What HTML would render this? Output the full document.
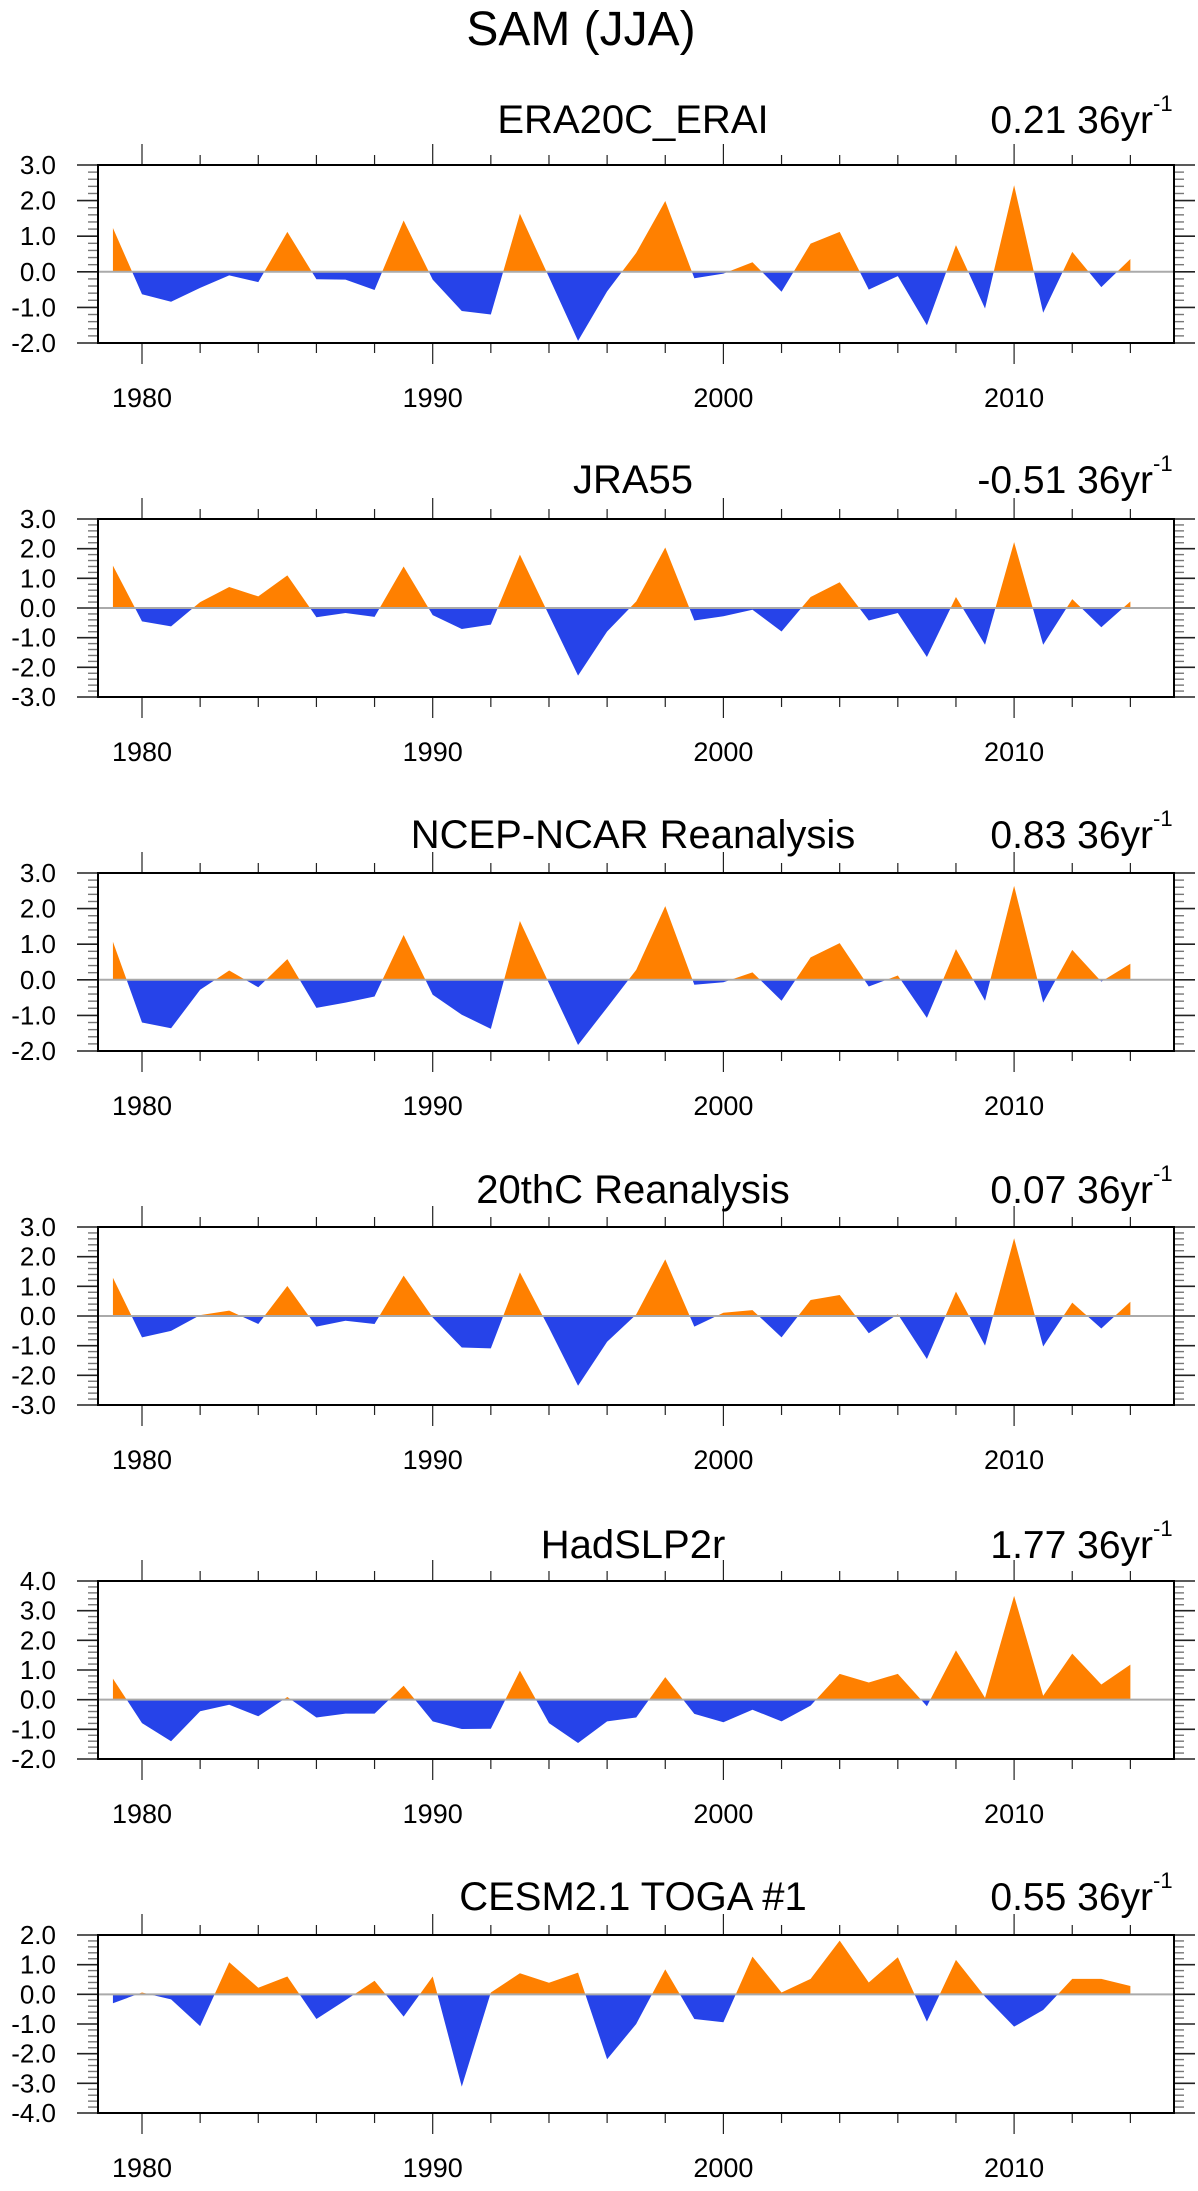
<!DOCTYPE html>
<html>
<head>
<meta charset="utf-8">
<style>
  html,body{margin:0;padding:0;background:#fff;}
  body{width:1198px;height:2186px;overflow:hidden;}
  svg text{font-family:"Liberation Sans", sans-serif;fill:#000;}
</style>
</head>
<body>
<svg id="fig" width="1198" height="2186" viewBox="0 0 1198 2186" xmlns="http://www.w3.org/2000/svg">
  <text x="581" y="45" font-size="48" text-anchor="middle">SAM (JJA)</text>
</svg>
<script>
const startYear = 1979;
const era20c = [1.23,-0.63,-0.84,-0.45,-0.1,-0.29,1.12,-0.21,-0.22,-0.51,1.44,-0.22,-1.1,-1.2,1.63,-0.15,-1.94,-0.55,0.53,1.99,-0.18,-0.05,0.27,-0.56,0.79,1.12,-0.5,-0.12,-1.5,0.75,-1.03,2.43,-1.15,0.56,-0.43,0.36];
const jra55 = [1.43,-0.45,-0.62,0.2,0.71,0.39,1.1,-0.31,-0.17,-0.3,1.4,-0.24,-0.71,-0.56,1.8,-0.24,-2.28,-0.79,0.22,2.04,-0.42,-0.28,-0.06,-0.79,0.37,0.87,-0.42,-0.17,-1.65,0.37,-1.24,2.22,-1.24,0.3,-0.65,0.22];
const ncep = [1.07,-1.2,-1.36,-0.28,0.26,-0.21,0.58,-0.79,-0.64,-0.47,1.26,-0.42,-0.98,-1.38,1.65,-0.1,-1.83,-0.78,0.28,2.07,-0.14,-0.07,0.21,-0.59,0.63,1.03,-0.19,0.12,-1.07,0.86,-0.59,2.64,-0.64,0.84,-0.05,0.45];
const c20 = [1.29,-0.72,-0.5,0.03,0.18,-0.27,1.01,-0.36,-0.16,-0.27,1.36,-0.05,-1.06,-1.09,1.47,-0.4,-2.35,-0.87,0.05,1.91,-0.36,0.11,0.2,-0.72,0.54,0.71,-0.58,0.06,-1.45,0.82,-1.0,2.62,-1.03,0.45,-0.42,0.48];
const hadslp = [0.71,-0.79,-1.4,-0.39,-0.17,-0.56,0.09,-0.6,-0.47,-0.47,0.47,-0.73,-0.99,-0.98,0.98,-0.79,-1.46,-0.73,-0.6,0.76,-0.48,-0.76,-0.34,-0.73,-0.2,0.87,0.58,0.87,-0.22,1.66,0.06,3.5,0.13,1.55,0.51,1.18];
const cesm = [-0.3,0.06,-0.17,-1.07,1.08,0.22,0.6,-0.83,-0.2,0.46,-0.75,0.6,-3.11,0.06,0.71,0.39,0.73,-2.19,-1.0,0.84,-0.83,-0.94,1.27,0.06,0.52,1.81,0.4,1.25,-0.92,1.16,-0.08,-1.09,-0.53,0.52,0.52,0.28];
const titles = ["ERA20C_ERAI","JRA55","NCEP-NCAR Reanalysis","20thC Reanalysis","HadSLP2r","CESM2.1 TOGA #1"];
const trends = ["0.21","-0.51","0.83","0.07","1.77","0.55"];
const yMaxes = [3,3,3,3,4,2];
const yMins = [-2,-3,-2,-3,-2,-4];
const yearTicks = [1980,1990,2000,2010];
const seriesList = [era20c,jra55,ncep,c20,hadslp,cesm];
const seriesNames = ["era20c-erai","jra55","ncep-ncar","20thc-reanalysis","hadslp2r","cesm21-toga"];

const NS = "http://www.w3.org/2000/svg";
const svg = document.getElementById('fig');
const L = 98, R = 1174, H = 178;
const tops = [165,519,873,1227,1581,1935];
const titleBase = [133,493,848,1203,1558,1910];
function xs(yr){ return 142 + (yr-1980)*29.07; }
function mk(tag, attrs, parent){
  const e = document.createElementNS(NS, tag);
  for (const k in attrs) e.setAttribute(k, attrs[k]);
  (parent||svg).appendChild(e);
  return e;
}
const defs = mk('defs',{});

seriesList.forEach((vals, p) => {
  const top = tops[p], bot = top + H, ymax = yMaxes[p], ymin = yMins[p];
  const ys = v => top + (ymax - v) * H / (ymax - ymin);
  const y0 = ys(0);
  const g = mk('g',{});
  
  

  // clips
  const cpA = mk('clipPath',{id:'ca'+p}, defs);
  mk('rect',{x:L,y:top,width:R-L,height:y0-top}, cpA);
  const cpB = mk('clipPath',{id:'cb'+p}, defs);
  mk('rect',{x:L,y:y0,width:R-L,height:bot-y0}, cpB);

  let d = 'M' + xs(startYear) + ',' + y0;
  vals.forEach((v,i) => { d += ' L' + xs(startYear+i).toFixed(2) + ',' + ys(v).toFixed(2); });
  d += ' L' + xs(startYear+vals.length-1) + ',' + y0 + ' Z';
  const pos = mk('path',{d:d, fill:'#ff8000', 'clip-path':'url(#ca'+p+')'}, g);
  
  
  const neg = mk('path',{d:d, fill:'#2643e9', 'clip-path':'url(#cb'+p+')'}, g);
  
  

  const zl = mk('line',{x1:L,x2:R,y1:y0,y2:y0,stroke:'#aaa','stroke-width':2}, g);
  
  

  // y ticks
  const nMinor = Math.round((ymax-ymin)/0.2);
  for (let k=0;k<=nMinor;k++){
    const v = ymin + k*0.2;
    const y = ys(v);
    const major = (k % 5 === 0);
    const len = major ? 21 : 10;
    mk('line',{x1:L-len,x2:L,y1:y,y2:y,stroke:major?'#222':'#777','stroke-width':major?1.6:1.4}, g);
    mk('line',{x1:R,x2:R+len,y1:y,y2:y,stroke:major?'#222':'#777','stroke-width':major?1.6:1.4}, g);
    if (major){
      const t = mk('text',{x:56,y:y+9,'font-size':26,'text-anchor':'end'}, g);
      t.textContent = v.toFixed(1);
      
      
    }
  }
  // x ticks
  for (let yr=1980; yr<=2014; yr+=2){
    const x = xs(yr);
    const major = yr % 10 === 0;
    const len = major ? 21 : 10;
    mk('line',{x1:x,x2:x,y1:top-len,y2:top,stroke:'#222','stroke-width':1.2}, g);
    mk('line',{x1:x,x2:x,y1:bot,y2:bot+len,stroke:'#222','stroke-width':1.2}, g);
  }
  yearTicks.forEach(yr => {
    const t = mk('text',{x:xs(yr),y:bot+64,'font-size':27,'text-anchor':'middle'}, g);
    t.textContent = yr;
    
    
  });
  const fr = mk('rect',{x:L,y:top,width:R-L,height:H,fill:'none',stroke:'#000','stroke-width':2}, g);
  
  

  const tt = mk('text',{x:633,y:titleBase[p],'font-size':40,'text-anchor':'middle'}, g);
  tt.textContent = titles[p];
  
  

  const tr = mk('text',{x:1153,y:titleBase[p],'font-size':39,'text-anchor':'end'}, g);
  tr.textContent = trends[p] + ' 36yr';
  
  
  const sup = mk('text',{x:1153,y:titleBase[p]-22,'font-size':22,'text-anchor':'start'}, g);
  sup.textContent = '-1';
  
  
});
</script>
</body>
</html>
